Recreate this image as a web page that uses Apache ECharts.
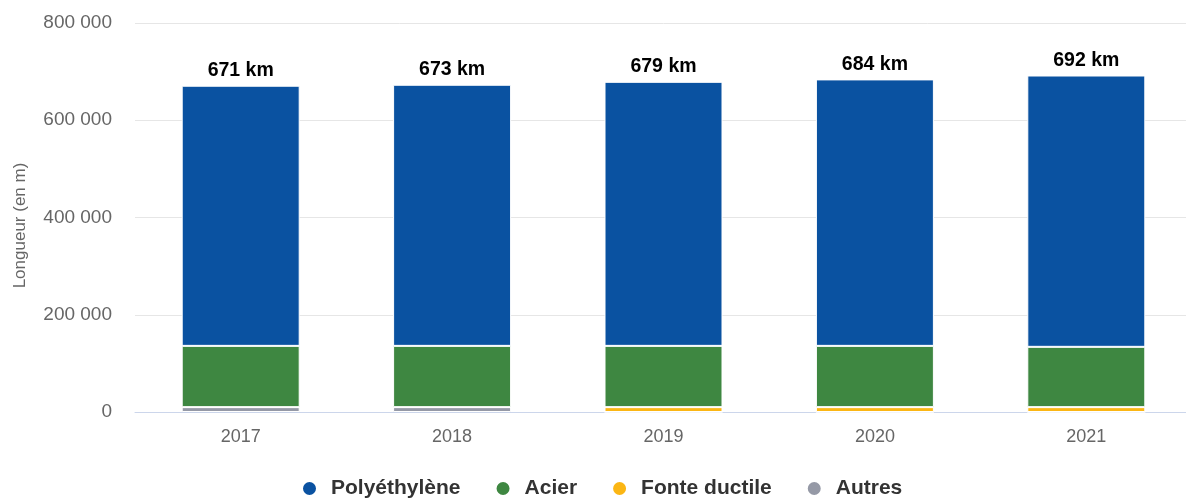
<!DOCTYPE html>
<html>
<head>
<meta charset="utf-8">
<script src="https://cdn.jsdelivr.net/npm/echarts@6/dist/echarts.min.js"></script>
<style>
  html, body { margin: 0; padding: 0; background: #fff; overflow: hidden; }
  #chart { width: 1200px; height: 498px; }
</style>
</head>
<body>
<div id="chart"></div>
<script>
// Network length by material, in metres
const years = ['2017', '2018', '2019', '2020', '2021'];
const totalKm = [671, 673, 679, 684, 692];
const acier = [126000, 126000, 126000, 126000, 124000];
const fonteDuctile = [0, 0, 10000, 10000, 10000];
const autres = [10000, 10000, 0, 0, 0];
// Polyethylene makes up the rest of each year's total
const polyethylene = totalKm.map((t, i) => t * 1000 - acier[i] - fonteDuctile[i] - autres[i]);

const yTicks = [0, 200000, 400000, 600000, 800000];

const fmtSpace = v => String(v).replace(/\B(?=(\d{3})+(?!\d))/g, ' ');

const chart = echarts.init(document.getElementById('chart'));
const FONT = '"Liberation Sans", Arial, sans-serif';
const barBase = {
  type: 'bar',
  stack: 'total',
  barWidth: 118,
  itemStyle: { borderColor: '#ffffff', borderWidth: 1 }
};

chart.setOption({
  animation: false,
  textStyle: { fontFamily: FONT },
  grid: { left: 135, top: 23, width: 1057, height: 389, containLabel: false },
  legend: {
    top: 473,
    left: 296,
    icon: 'circle',
    itemWidth: 15,
    itemHeight: 15,
    itemGap: 34,
    data: ['Polyéthylène', 'Acier', 'Fonte ductile', 'Autres'],
    textStyle: { fontSize: 21, fontWeight: 'bold', color: '#333333', fontFamily: FONT, padding: [0, 0, 0, 9] }
  },
  xAxis: {
    type: 'category',
    data: years,
    axisLine: { lineStyle: { color: '#ccd6eb' } },
    axisTick: { length: 10, lineStyle: { color: '#ccd6eb' } },
    axisLabel: { color: '#666666', fontSize: 18, margin: 16 }
  },
  yAxis: {
    type: 'value',
    min: yTicks[0],
    max: yTicks[yTicks.length - 1],
    interval: yTicks[1] - yTicks[0],
    name: 'Longueur (en m)',
    nameLocation: 'middle',
    nameGap: 106,
    nameTextStyle: { color: '#666666', fontSize: 17, padding: [0, 16, 0, 0] },
    axisLabel: { color: '#666666', fontSize: 19, margin: 23, formatter: fmtSpace },
    splitLine: { lineStyle: { color: '#e6e6e6' } }
  },
  series: [
    Object.assign({}, barBase, { name: 'Autres', data: autres, itemStyle: Object.assign({}, barBase.itemStyle, { color: '#9599a6' }) }),
    Object.assign({}, barBase, { name: 'Fonte ductile', data: fonteDuctile, itemStyle: Object.assign({}, barBase.itemStyle, { color: '#fbb614' }) }),
    Object.assign({}, barBase, { name: 'Acier', data: acier, itemStyle: Object.assign({}, barBase.itemStyle, { color: '#3e8741' }) }),
    Object.assign({}, barBase, {
      name: 'Polyéthylène',
      data: polyethylene,
      itemStyle: Object.assign({}, barBase.itemStyle, { color: '#0a52a1' }),
      label: {
        show: true,
        position: 'top',
        distance: 5,
        fontSize: 19.5,
        fontWeight: 'bold',
        color: '#000000',
        formatter: p => totalKm[p.dataIndex] + ' km'
      }
    })
  ]
});
</script>
</body>
</html>
